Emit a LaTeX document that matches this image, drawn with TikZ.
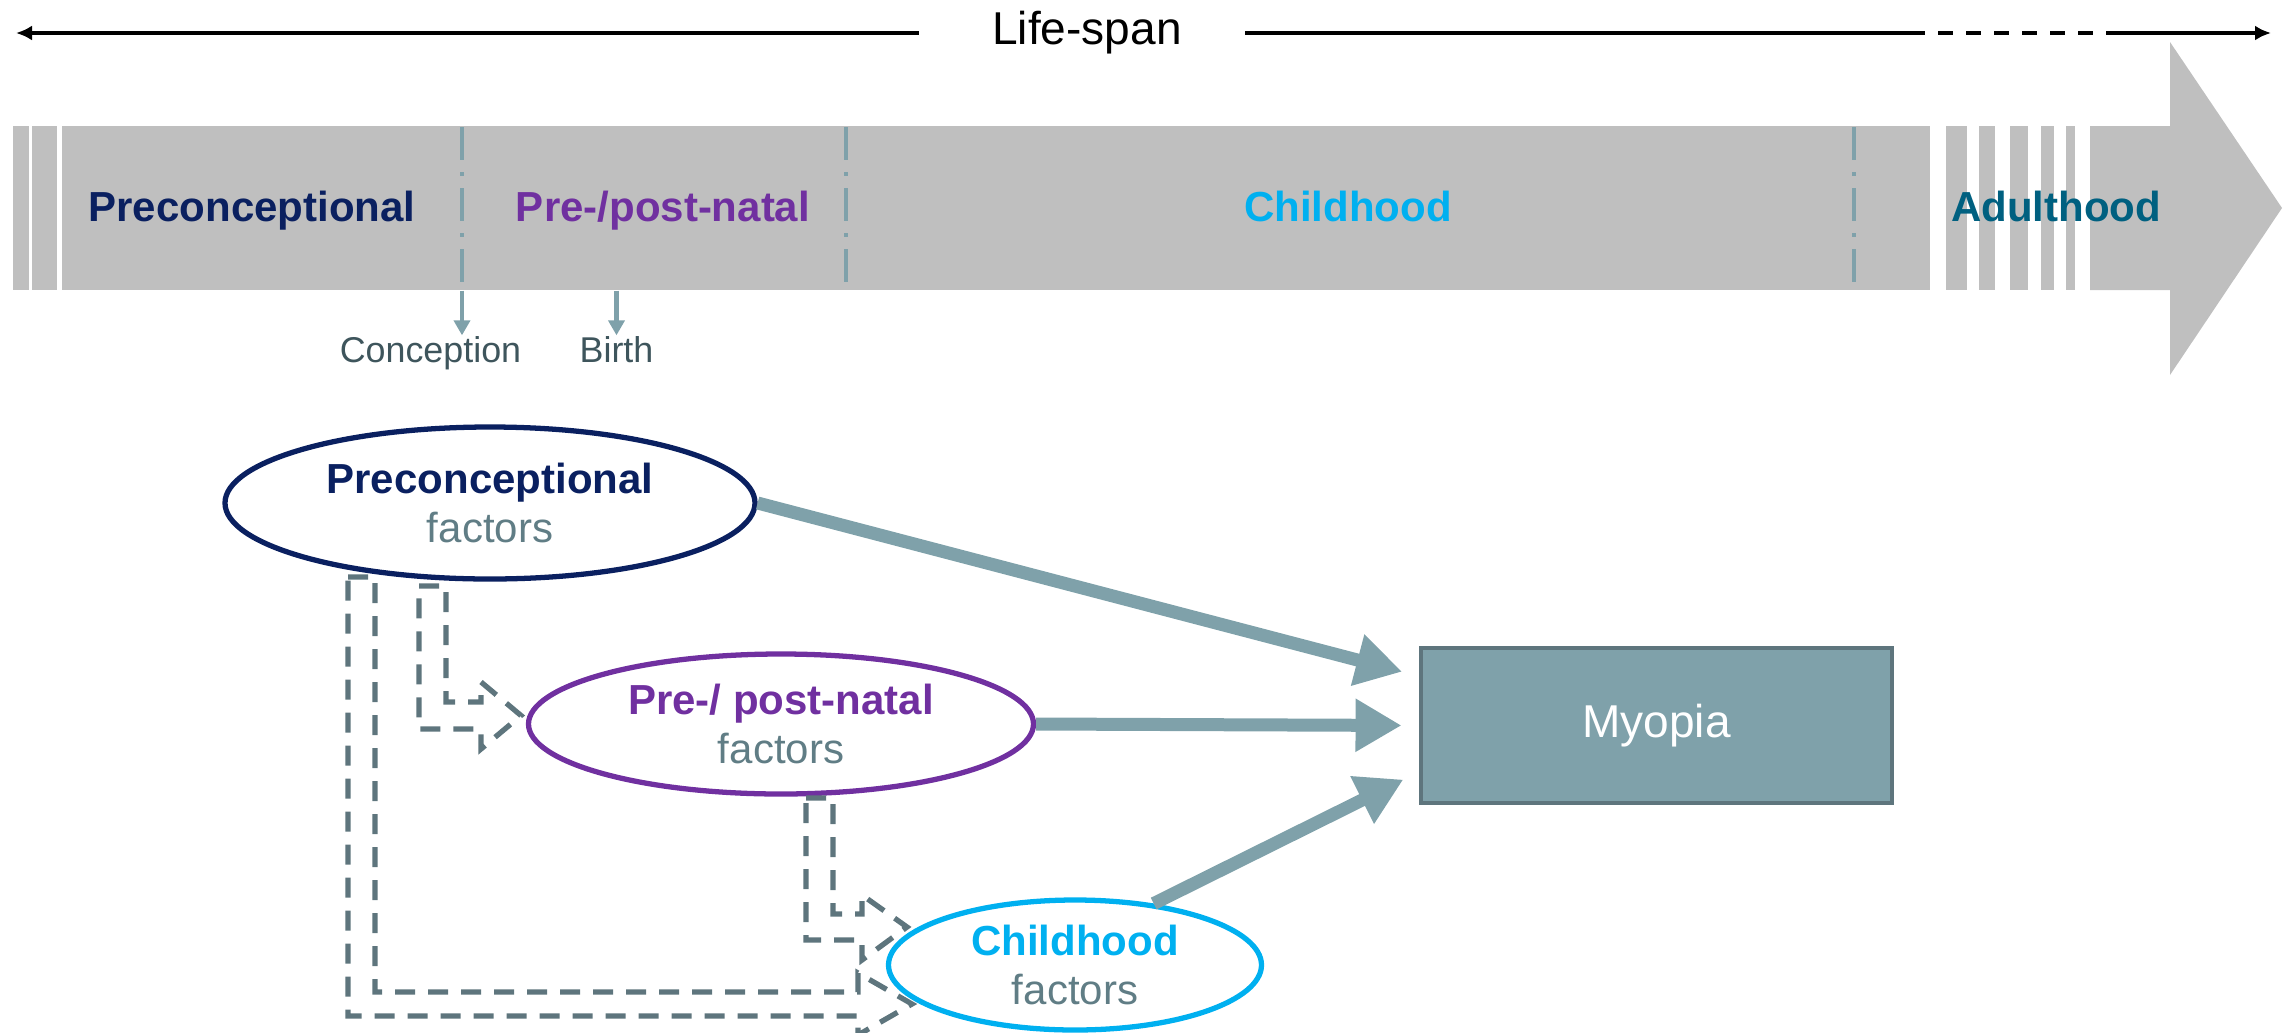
\documentclass[tikz,border=0pt]{standalone}
\usepackage{fontspec}
\setmainfont{Liberation Sans}
\usetikzlibrary{arrows.meta,positioning,shapes.geometric}
\usepackage{xcolor}
\definecolor{lsnavy}{RGB}{10,32,96}
\definecolor{lspurple}{RGB}{112,48,160}
\definecolor{lssky}{RGB}{0,176,240}
\definecolor{lsteal}{RGB}{0,96,128}
\definecolor{lsbar}{RGB}{191,191,191}
\definecolor{lsgray}{RGB}{127,161,170}
\definecolor{lsslate}{RGB}{94,117,125}
\definecolor{lsfactor}{RGB}{96,125,133}
\definecolor{lsdark}{RGB}{62,85,92}
\tikzset{
    phase/.style={
        anchor=base,text=#1,font=\fontsize{11.95}{14}\selectfont\bfseries
    },
    factor/.style={
        ellipse,draw=#1,line width=1.5pt,inner sep=0pt,
        align=center,text=lsfactor,font=\fontsize{11.95}{14}\selectfont
    },
    effect/.style={
        -{Triangle[length=0.46cm,width=0.5cm]},line width=0.13cm,
        draw=lsgray,shorten >=0.17cm
    },
    carry/.style={
        draw=lsslate,line width=1.5pt,line join=miter,
        dash pattern=on 0.2cm off 0.13cm
    },
    divider/.style={
        draw=lsgray,line width=0.9pt,
        dash pattern=on 0.33cm off 0.12cm on 0.04cm off 0.12cm
    },
    tick/.style={
        -{Triangle[length=0.15cm,width=0.16cm]},line width=1.2pt,draw=lsgray
    },
    life/.style={line width=1.15pt,draw=black}
}

\begin{document}
\begin{tikzpicture}
\useasboundingbox (0,0) rectangle (22.92,10.32);

% life-span line
\node[inner sep=0pt,font=\fontsize{13.1}{15}\selectfont] (span) at (10.87,9.99) {Life-span};
\coordinate[left=0.73cm of span] (l0);
\coordinate[right=0.63cm of span] (r0);
\coordinate (lend) at (0.16,9.99);
\coordinate (d0) at (19.10,9.99);
\coordinate (d1) at (21.15,9.99);
\coordinate (rend) at (22.71,9.99);
\draw[life,-{Latex[length=0.16cm,width=0.15cm]}](l0)--(lend);
\draw[life](r0)--(d0);
\draw[life,dash pattern=on 0.15cm off 0.13cm](d0)--(d1);
\draw[life,-{Latex[length=0.16cm,width=0.15cm]}](d1)--(rend);

% time bar
\node[fill=lsbar,inner sep=0pt,minimum width=18.68cm,minimum height=1.64cm]
(bar) at (9.96,8.24){};
\foreach \a/\b in {0.13/0.29,0.32/0.57,19.46/19.67,19.79/19.95,20.10/20.28,20.41/20.54,20.66/20.75}
    \fill[lsbar](\a,7.42) rectangle (\b,9.06);
\fill[lsbar](20.90,7.42)--(21.70,7.42)--(21.70,6.57)--(22.82,8.24)
    --(21.70,9.90)--(21.70,9.06)--(20.90,9.06)--cycle;

\draw[divider](4.62,9.05) coordinate (da)--(4.62,7.45);
\draw[divider](8.46,9.05) coordinate (db)--(8.46,7.45);
\draw[divider](18.54,9.05) coordinate (dc)--(18.54,7.45);

\node[phase=lsnavy] (tpre) at (2.52,8.11){Preconceptional};
\node[phase=lspurple] (tperi) at (6.63,8.11){Pre-/post-natal};
\node[phase=lssky] (tchild) at (13.48,8.11){Childhood};
\node[phase=lsteal] (tadult) at (20.56,8.11){Adulthood};

\node[anchor=base,inner sep=0pt,text=lsdark,font=\fontsize{10.2}{12}\selectfont]
(conc) at (4.305,6.70){Conception};
\node[anchor=base,inner sep=0pt,text=lsdark,font=\fontsize{10.2}{12}\selectfont]
(birth) at (6.165,6.70){Birth};
\draw[tick](da |- bar.south)--(da |- conc.north);
\draw[tick](birth.north |- bar.south)--(birth.north);

% factors
\node[factor=lsnavy,minimum width=5.30cm,minimum height=1.52cm]
(pre) at (4.90,5.29){\textcolor{lsnavy}{\bfseries Preconceptional}\\factors};
\node[factor=lspurple,minimum width=5.05cm,minimum height=1.40cm]
(peri) at (7.81,3.08){\textcolor{lspurple}{\bfseries Pre-/ post-natal}\\factors};
\node[factor=lssky,minimum width=3.73cm,minimum height=1.30cm]
(child) at (10.75,0.67){\textcolor{lssky}{\bfseries Childhood}\\factors};

\node[draw=lsslate,fill=lsgray,line width=1.4pt,minimum width=4.71cm,
minimum height=1.55cm,text=white,font=\fontsize{13.1}{15}\selectfont]
(myo) at (16.565,3.065){Myopia};

\draw[effect](pre.east)--([yshift=0.495cm]myo.west);
\draw[effect](peri.east)--(myo.west);
\draw[effect](child.38)--([yshift=-0.465cm]myo.west);

% carry-over arrows
\draw[carry](4.19,4.46)--(4.46,4.46)--(4.46,3.30)--(4.81,3.30)--(4.81,3.50)
    --(5.21,3.165)--(4.81,2.83)--(4.81,3.03)--(4.19,3.03)--cycle;
\draw[carry](8.06,2.34)--(8.33,2.34)--(8.33,1.18)--(8.62,1.18)--(8.62,1.37)
    --(9.07,1.05)--(8.62,0.72)--(8.62,0.92)--(8.06,0.92)--cycle;
\draw[carry](3.48,4.55)--(3.75,4.55)--(3.75,0.40)--(8.58,0.40)--(8.58,0.59)
    --(9.12,0.28)--(8.58,-0.03)--(8.58,0.16)--(3.48,0.16)--cycle;

\end{tikzpicture}
\end{document}
